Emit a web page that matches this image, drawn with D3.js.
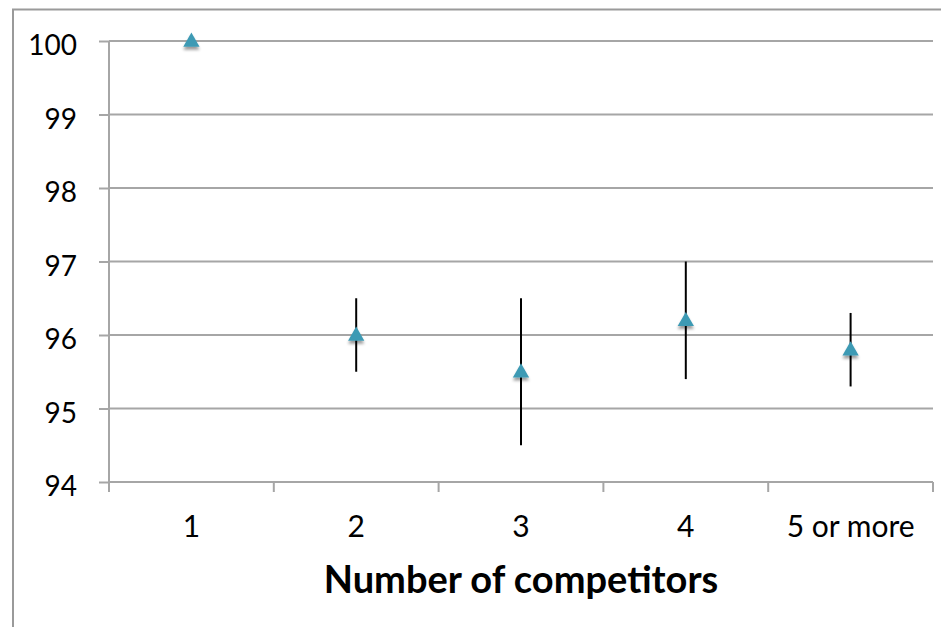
<!DOCTYPE html>
<html>
<head>
<meta charset="utf-8">
<script src="https://cdn.jsdelivr.net/npm/d3@7"></script>
<style>
  body { margin: 0; background: #fff; }
  svg { display: block; }
</style>
</head>
<body>
<div id="chart"></div>
<script>
// data
const categories = ['1', '2', '3', '4', '5 or more'];
const means = [100, 96.0, 95.5, 96.2, 95.8];
const lows = [100, 95.5, 94.5, 95.4, 95.3];
const highs = [100, 96.5, 96.5, 97.0, 96.3];
const yTicks = [94, 95, 96, 97, 98, 99, 100];

const width = 941;
const height = 627;
const margin = {top: 41, right: 8, bottom: 145, left: 109};
const innerWidth = width - margin.left - margin.right;
const innerHeight = height - margin.top - margin.bottom;

const fontFamily = 'Lato, "Open Sans", sans-serif';
const gridColor = '#a6a6a6';
const markerColor = '#3c9ab4';

const xScale = d3.scaleBand()
    .domain(categories)
    .range([0, innerWidth]);
const yScale = d3.scaleLinear()
    .domain([94, 100])
    .range([innerHeight, 0]);

const svg = d3.select('#chart')
  .append('svg')
    .attr('width', width)
    .attr('height', height);

// drop shadow for the markers
const defs = svg.append('defs');
const shadow = defs.append('filter')
    .attr('id', 'shadow')
    .attr('x', '-50%').attr('y', '-50%')
    .attr('width', '200%').attr('height', '200%');
shadow.append('feGaussianBlur').attr('in', 'SourceAlpha').attr('stdDeviation', 1.8);
shadow.append('feOffset').attr('dy', 3).attr('result', 'off');
shadow.append('feComponentTransfer').append('feFuncA').attr('type', 'linear').attr('slope', 0.4);
const merge = shadow.append('feMerge');
merge.append('feMergeNode');
merge.append('feMergeNode').attr('in', 'SourceGraphic');

// outer chart frame: only its left and top sides are in the picture
svg.append('path')
    .attr('d', `M13,${height}V9.5H${width}`)
    .attr('fill', 'none')
    .attr('stroke', '#9a9a9a')
    .attr('stroke-width', 2);

const g = svg.append('g')
    .attr('transform', `translate(${margin.left},${margin.top})`);

// y axis line and outward ticks
g.append('g')
    .call(d3.axisLeft(yScale)
        .tickValues(yTicks)
        .tickFormat('')
        .tickSize(10))
    .call(a => a.select('.domain').attr('stroke', gridColor).attr('stroke-width', 2).attr('d', `M0,0V${innerHeight}`))
    .call(a => a.selectAll('.tick line').attr('stroke', gridColor).attr('stroke-width', 2));

// y tick labels
g.append('g')
  .selectAll('text')
  .data(yTicks)
  .join('text')
    .attr('x', -32)
    .attr('y', d => yScale(d) + 14)
    .attr('text-anchor', 'end')
    .style('font-family', fontFamily)
    .style('font-size', '28px')
    .attr('fill', '#000')
    .text(d => d);

// gridlines
g.append('g')
  .selectAll('line')
  .data(yTicks)
  .join('line')
    .attr('x1', 0)
    .attr('x2', innerWidth)
    .attr('y1', d => yScale(d))
    .attr('y2', d => yScale(d))
    .attr('stroke', gridColor)
    .attr('stroke-width', 2);

// x axis, ticks at the category boundaries
const xAxis = g.append('g')
    .attr('transform', `translate(0,${innerHeight})`);
xAxis.append('line')
    .attr('x1', 0).attr('x2', innerWidth)
    .attr('stroke', gridColor).attr('stroke-width', 2);
xAxis.selectAll('.bound')
  .data(categories.concat(['end']))
  .join('line')
    .attr('class', 'bound')
    .attr('x1', (d, i) => i * xScale.step())
    .attr('x2', (d, i) => i * xScale.step())
    .attr('y1', 0)
    .attr('y2', 10)
    .attr('stroke', gridColor)
    .attr('stroke-width', 2);
xAxis.selectAll('.lbl')
  .data(categories)
  .join('text')
    .attr('class', 'lbl')
    .attr('x', d => xScale(d) + xScale.bandwidth() / 2)
    .attr('y', 55)
    .attr('text-anchor', 'middle')
    .style('font-family', fontFamily)
    .style('font-size', '30px')
    .text(d => d);

xAxis.append('text')
    .attr('x', innerWidth / 2)
    .attr('y', 111)
    .attr('text-anchor', 'middle')
    .style('font-family', fontFamily)
    .style('font-size', '38px')
    .style('font-weight', 'bold')
    .text('Number of competitors');

// error bars
const cx = d => xScale(d) + xScale.bandwidth() / 2;
g.selectAll('.err')
  .data(categories)
  .join('line')
    .attr('class', 'err')
    .attr('x1', cx)
    .attr('x2', cx)
    .attr('y1', (d, i) => yScale(highs[i]))
    .attr('y2', (d, i) => yScale(lows[i]))
    .attr('stroke', '#000')
    .attr('stroke-width', 2);

// triangle markers
const tri = d3.symbol().type(d3.symbolTriangle).size(115);
g.selectAll('.pt')
  .data(categories)
  .join('path')
    .attr('class', 'pt')
    .attr('d', tri)
    .attr('transform', (d, i) => `translate(${cx(d)},${yScale(means[i]) + 1})`)
    .attr('fill', markerColor)
    .attr('filter', 'url(#shadow)');
</script>
</body>
</html>
